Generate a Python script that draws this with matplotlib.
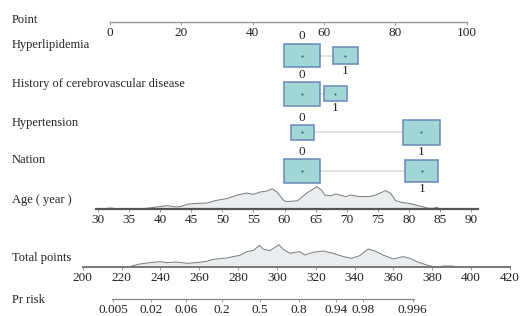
import matplotlib.pyplot as plt
from matplotlib.patches import Rectangle
import numpy as np

plt.rcParams['font.family'] = ['Liberation Serif', 'DejaVu Serif']
plt.rcParams['font.size'] = 9.5

# 数据
point_ticks = [0, 20, 40, 60, 80, 100]

# 各变量取值 0/1 对应的分数，以及各组占比（决定方框大小）
hyperlip_pts = [53.9, 65.9]
hyperlip_freq = [0.69, 0.33]
history_pts = [53.9, 63.2]
history_freq = [0.69, 0.27]
hypertension_pts = [53.9, 87.3]
hypertension_freq = [0.27, 0.74]
nation_pts = [53.9, 87.4]
nation_freq = [0.69, 0.59]

age_ticks = list(range(30, 95, 5))
age_x = [29.7, 31.4, 31.5, 32.4, 32.5, 35.4, 37.8, 39.4, 41.0, 42.6, 43.4, 44.3, 45.3,
         47.5, 49.1, 50.7, 51.8, 52.9, 53.9, 55.0, 56.1, 57.2, 58.0, 58.8, 59.9, 60.4,
         62.1, 63.6, 64.7, 65.2, 66.0, 66.5, 67.4, 68.3, 69.9, 70.7, 72.0, 73.6, 74.7,
         76.3, 77.1, 77.9, 79.0, 80.0, 81.1, 82.2, 83.2, 84.0, 84.6, 84.8, 91.2]
age_dens = [0, 0, 1.2, 1.2, 0, 0.5, 1.0, 2.3, 3.7, 2.3, 3.0, 5.0, 5.7,
            6.3, 9.0, 10.7, 13.0, 15.0, 16.3, 15.0, 17.3, 18.3, 20.5, 17.3, 8.7, 7.7,
            8.5, 16.3, 20.5, 22.7, 19.0, 14.3, 13.5, 15.3, 12.7, 14.3, 12.7, 12.7, 14.3,
            18.7, 16.0, 8.7, 6.7, 6.0, 4.3, 2.7, 1.0, 1.0, 2.0, 0, 0]

total_ticks = list(range(200, 421, 20))
total_x = [225.0, 225.2, 229.5, 234.7, 239.8, 243.3, 248.4, 253.6, 258.7, 263.9, 267.3,
           274.2, 277.5, 281.0, 284.4, 287.8, 291.0, 293.0, 296.4, 301.0, 303.3, 306.7,
           311.8, 314.4, 318.7, 323.8, 329.0, 334.1, 338.4, 342.7, 347.0, 350.4, 354.7,
           359.9, 365.0, 368.5, 371.9, 377.1, 380.5, 382.0, 384.8, 385.0, 390.8, 391.0]
total_dens = [0, 1.3, 3.3, 4.7, 5.7, 4.7, 5.3, 4.0, 4.7, 6.0, 8.0,
              9.3, 10.7, 12.0, 15.7, 16.7, 22.0, 18.0, 16.7, 22.5, 18.0, 14.0,
              15.7, 12.3, 15.0, 16.3, 14.0, 10.7, 9.0, 11.7, 18.3, 16.3, 12.3,
              8.3, 10.7, 9.0, 5.7, 2.3, 0.7, 0, 0, 1.3, 1.3, 0]

pr_labels = ['0.005', '0.02', '0.06', '0.2', '0.5', '0.8', '0.94', '0.98', '0.996']
pr_points = [215.8, 235.2, 253.2, 271.6, 291.3, 311.5, 330.4, 344.2, 369.9]

# 画布（像素布局）
W, H = 520, 316
fig = plt.figure(figsize=(W / 100, H / 100), dpi=100)
label_size = 9


def fy(px):
    return 1 - px / H


def scale_axes(y_line, px_a, va, px_b, vb, height=0.5):
    # 整幅宽度的坐标轴，底边就是刻度线所在位置
    k = (vb - va) / (px_b - px_a)
    ax = fig.add_axes([0, fy(y_line), 1, height / H])
    ax.set_xlim(va - px_a * k, va + (W - px_a) * k)
    ax.set_ylim(0, height)
    ax.patch.set_alpha(0)
    for s in ['top', 'left', 'right']:
        ax.spines[s].set_visible(False)
    ax.set_yticks([])
    ax.tick_params(axis='x', length=2, width=0.6, color='#888888', labelcolor='#222222', pad=1.5)
    return ax


# 方框所在主坐标轴：x 为分数，y 为像素行
px_per_pt = (466.7 - 110) / 100
ax = fig.add_axes([0, 0, 1, 1])
ax.set_xlim(-110 / px_per_pt, (W - 110) / px_per_pt)
ax.set_ylim(H, 0)
ax.axis('off')

rows = [
    ('Hyperlipidemia', hyperlip_pts, hyperlip_freq, 48.3, 55.5),
    ('History of cerebrovascular disease', history_pts, history_freq, 87.3, 93.8),
    ('Hypertension', hypertension_pts, hypertension_freq, 126.0, 132.3),
    ('Nation', nation_pts, nation_freq, 163.3, 171.0),
]
for name, pts, freq, base_y, box_y in rows:
    fig.text(12 / W, fy(base_y), name, va='baseline', ha='left', color='#222222', fontsize=label_size)
    ax.plot(pts, [box_y, box_y], color='#dddddd', lw=1.2, zorder=1)
    for lvl, (p, f) in enumerate(zip(pts, freq)):
        w_px = 43.3 * np.sqrt(f)
        h_px = w_px / 1.5
        ax.add_patch(Rectangle((p - w_px / 2 / px_per_pt, box_y - h_px / 2), w_px / px_per_pt, h_px,
                               facecolor='#a3d7d5', edgecolor='#6688bb', lw=1.1, zorder=2))
        ax.plot(p, box_y, marker='.', ms=1.2, color='#336688', zorder=3)
        if lvl == 0:
            ax.text(p, box_y - h_px / 2 - 1.2, '0', ha='center', va='bottom', color='#222222')
        else:
            ax.text(p, box_y + h_px / 2 + 1.2, '1', ha='center', va='top', color='#222222')

# Point 轴
fig.text(12 / W, fy(22.7), 'Point', va='baseline', ha='left', color='#222222', fontsize=label_size)
axp = scale_axes(21.7, 110, 0, 466.7, 100)
axp.spines['bottom'].set_bounds(0, 100)
axp.spines['bottom'].set_color('#999999')
axp.spines['bottom'].set_linewidth(1.0)
axp.set_xticks(point_ticks)

# Age 轴与分布
fig.text(12 / W, fy(202.7), 'Age ( year )', va='baseline', ha='left', color='#222222', fontsize=label_size)
axa = scale_axes(209.3, 98.3, 30, 470.7, 90, height=30)
axa.fill_between(age_x, 0, age_dens, color='#e9edf0', lw=0, clip_on=False)
axa.plot(age_x, age_dens, color='#777777', lw=0.7, clip_on=False)
axa.spines['bottom'].set_bounds(29.7, 91.2)
axa.spines['bottom'].set_color('#555555')
axa.spines['bottom'].set_linewidth(1.6)
axa.spines['bottom'].set_zorder(5)
axa.set_xticks(age_ticks)

# Total points 轴与分布
fig.text(12 / W, fy(260.7), 'Total points', va='baseline', ha='left', color='#222222', fontsize=label_size)
axt = scale_axes(267.3, 82.7, 200, 510, 420, height=30)
axt.fill_between(total_x, 0, total_dens, color='#e9edf0', lw=0, clip_on=False)
axt.plot(total_x, total_dens, color='#777777', lw=0.7, clip_on=False)
axt.spines['bottom'].set_bounds(200, 420)
axt.spines['bottom'].set_color('#777777')
axt.spines['bottom'].set_linewidth(1.4)
axt.spines['bottom'].set_zorder(5)
axt.set_xticks(total_ticks)

# Pr risk 轴
fig.text(12 / W, fy(303.3), 'Pr risk', va='baseline', ha='left', color='#222222', fontsize=label_size)
axr = scale_axes(299, 82.7, 200, 510, 420)
axr.spines['bottom'].set_bounds(215.0, 370.7)
axr.spines['bottom'].set_color('#888888')
axr.spines['bottom'].set_linewidth(0.9)
axr.set_xticks(pr_points)
axr.set_xticklabels(pr_labels)

fig.savefig('out.png', dpi=100)
